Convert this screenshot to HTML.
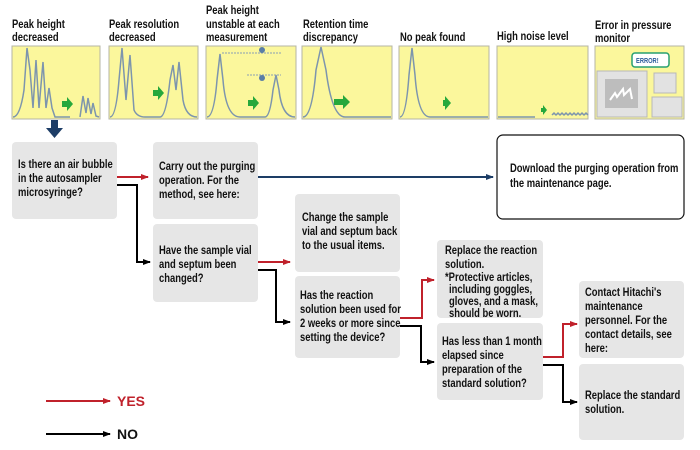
<!DOCTYPE html>
<html><head><meta charset="utf-8"><style>
html,body{margin:0;padding:0;background:#fff;width:700px;height:450px;overflow:hidden}
svg{display:block}
text{font-family:"Liberation Sans",sans-serif;font-weight:bold;font-size:11.5px;fill:#111;transform:scaleX(.82);transform-box:fill-box;transform-origin:left center}
text.n{transform:none}
</style></head><body>
<svg width="700" height="450" viewBox="0 0 700 450" xmlns="http://www.w3.org/2000/svg">
<defs>
<marker id="ar" markerWidth="8" markerHeight="6" refX="7" refY="3" orient="auto" markerUnits="userSpaceOnUse"><path d="M0,0L8,3L0,6z" fill="#c0212b"/></marker>
<marker id="ab" markerWidth="8" markerHeight="6" refX="7" refY="3" orient="auto" markerUnits="userSpaceOnUse"><path d="M0,0L8,3L0,6z" fill="#000"/></marker>
<marker id="an" markerWidth="8" markerHeight="6" refX="7" refY="3" orient="auto" markerUnits="userSpaceOnUse"><path d="M0,0L8,3L0,6z" fill="#1d3d66"/></marker>
</defs>
<!-- titles -->
<text x="12" y="28">Peak height</text><text x="12" y="41">decreased</text>
<text x="109" y="28">Peak resolution</text><text x="109" y="41">decreased</text>
<text x="206" y="14">Peak height</text><text x="206" y="28">unstable at each</text><text x="206" y="41">measurement</text>
<text x="303" y="28">Retention time</text><text x="303" y="41">discrepancy</text>
<text x="400" y="41">No peak found</text>
<text x="497" y="40">High noise level</text>
<text x="595" y="29">Error in pressure</text><text x="595" y="42">monitor</text>
<!-- panels -->
<g fill="#fbf79c" stroke="#b5b5a5" stroke-width="1">
<rect x="12" y="46" width="88" height="73"/><rect x="109" y="46" width="89" height="73"/>
<rect x="206" y="46" width="90" height="73"/><rect x="302" y="46" width="90" height="73"/>
<rect x="399" y="46" width="90" height="73"/><rect x="497" y="46" width="91" height="73"/>
<rect x="595" y="46" width="89" height="73"/>
</g>
<g fill="none" stroke="#7d95ad" stroke-width="1.5">
<path d="M13,117 Q20,117 24,90 L27,48 L30,70 L33,108 L36,60 L39,108 L43,62 L46,108 L49,88 L52,108 L55,117 L70,117"/>
<path d="M80,117 L83,96 L86,113 L88,98 L91,114 L93,103 L96,116 L99,117"/>
<path d="M110,117 Q116,117 119,80 L122,48 L126,100 L130,55 L134,110 Q137,117 145,117 L160,117 Q166,117 170,80 L173,65 L176,90 L179,62 L183,100 Q186,117 197,117"/>
<path d="M207,117 Q214,117 217,80 L220,54 L223,80 Q226,117 240,117 L265,117 Q270,117 273,90 L276,75 L279,90 Q282,117 295,117"/>
<path d="M303,117 Q312,117 316,70 L321,47 L326,70 Q332,117 345,117 L391,117"/>
<path d="M400,117 Q406,117 409,75 L412,48 L415,75 Q418,117 430,117 L488,117"/>
<path d="M498,117 L535,117"/>
<path d="M552,115 l2,-2 l2,2 l2,-2 l2,2 l2,-2 l2,2 l2,-2 l2,2 l2,-2 l2,2 l2,-2 l2,2 l2,-2 l2,2 l2,-2 l2,2 l2,-2 l2,2"/>
</g>
<g stroke="#8a9fb5" stroke-dasharray="2,1" stroke-width="1"><line x1="222" y1="53" x2="282" y2="53"/><line x1="247" y1="75" x2="281" y2="75"/></g>
<g fill="#5a7ea6"><circle cx="262" cy="50" r="3"/><circle cx="262" cy="78" r="3"/></g>
<g fill="#26a83c">
<path d="M62,101h5v-4l6,7l-6,7v-4h-5z"/><path d="M153,90h5v-4l6,7l-6,7v-4h-5z"/>
<path d="M248,100h5v-4l6,7l-6,7v-4h-5z"/><path d="M334,99h9v-4l7,7l-7,7v-4h-9z"/>
<path d="M443,100h2v-4l6,7l-6,7v-4h-2z"/><path d="M541,108h2v-3l4,5l-4,5v-3h-2z"/>
</g>
<!-- error monitor -->
<rect x="597" y="71" width="50" height="46" fill="#e2e2e2" stroke="#b8b8b8"/>
<rect x="605" y="79" width="33" height="29" fill="#bdbdbd"/>
<path d="M610,100l5,-7l2,4l6,-8l1,6l6,-6l2,10" fill="none" stroke="#fff" stroke-width="2"/>
<rect x="654" y="73" width="22" height="20" fill="#e2e2e2" stroke="#b8b8b8"/>
<rect x="652" y="97" width="30" height="20" fill="#e2e2e2" stroke="#b8b8b8"/>
<rect x="632" y="53" width="37" height="14" rx="3" fill="#fff" stroke="#28a070" stroke-width="1.5"/>
<text x="636" y="63" style="font-size:7px;fill:#2a5a9a">ERROR!</text>
<!-- down arrow -->
<rect x="51" y="120" width="7" height="9" fill="#1d3d66"/><path d="M46,128h17l-8.5,10z" fill="#1d3d66"/>
<!-- boxes -->
<g fill="#e6e6e6">
<rect x="12" y="142" width="105" height="77" rx="4"/><rect x="153" y="142" width="105" height="77" rx="4"/>
<rect x="153" y="224" width="105" height="78" rx="4"/><rect x="295" y="194" width="105" height="78" rx="4"/>
<rect x="295" y="276" width="105" height="82" rx="4"/><rect x="437" y="240" width="106" height="78" rx="4"/>
<rect x="437" y="323" width="106" height="77" rx="4"/><rect x="579" y="281" width="105" height="77" rx="4"/>
<rect x="579" y="364" width="105" height="76" rx="4"/>
</g>
<rect x="497" y="135" width="187" height="84" rx="6" fill="#fff" stroke="#111" stroke-width="1.2"/>
<text x="18" y="168">Is there an air bubble</text><text x="18" y="182">in the autosampler</text><text x="18" y="196">microsyringe?</text>
<text x="159" y="170">Carry out the purging</text><text x="159" y="184">operation. For the</text><text x="159" y="198">method, see here:</text>
<text x="159" y="254">Have the sample vial</text><text x="159" y="268">and septum been</text><text x="159" y="282">changed?</text>
<text x="302" y="221">Change the sample</text><text x="302" y="235">vial and septum back</text><text x="302" y="249">to the usual items.</text>
<text x="300" y="299">Has the reaction</text><text x="300" y="313">solution been used for</text><text x="300" y="327">2 weeks or more since</text><text x="300" y="341">setting the device?</text>
<text x="445" y="254">Replace the reaction</text><text x="445" y="268">solution.</text>
<g style="font-weight:normal;font-size:11px"><text x="445" y="281">*Protective articles,</text><text x="449" y="293">including goggles,</text><text x="449" y="305">gloves, and a mask,</text><text x="449" y="317">should be worn.</text></g>
<text x="442" y="345">Has less than 1 month</text><text x="442" y="359">elapsed since</text><text x="442" y="373">preparation of the</text><text x="442" y="387">standard solution?</text>
<text x="585" y="296">Contact Hitachi's</text><text x="585" y="310">maintenance</text><text x="585" y="324">personnel. For the</text><text x="585" y="338">contact details, see</text><text x="585" y="352">here:</text>
<text x="585" y="399">Replace the standard</text><text x="585" y="413">solution.</text>
<text x="510" y="172">Download the purging operation from</text><text x="510" y="187">the maintenance page.</text>
<!-- connectors -->
<g fill="none" stroke-width="2">
<path d="M117,177H148" stroke="#c0212b" marker-end="url(#ar)"/>
<path d="M117,185H137V262H150" stroke="#000" marker-end="url(#ab)"/>
<path d="M258,177H493" stroke="#1d3d66" marker-end="url(#an)"/>
<path d="M258,262H290" stroke="#c0212b" marker-end="url(#ar)"/>
<path d="M258,270H276V322H290" stroke="#000" marker-end="url(#ab)"/>
<path d="M400,318H422V280H434" stroke="#c0212b" marker-end="url(#ar)"/>
<path d="M400,326H421V362H434" stroke="#000" marker-end="url(#ab)"/>
<path d="M543,357H563V324H577" stroke="#c0212b" marker-end="url(#ar)"/>
<path d="M543,365H563V402H577" stroke="#000" marker-end="url(#ab)"/>
<path d="M46,401H110" stroke="#c0212b" marker-end="url(#ar)"/>
<path d="M46,434H110" stroke="#000" marker-end="url(#ab)"/>
</g>
<text class="n" x="117" y="406" style="font-size:14px;fill:#c0212b">YES</text>
<text class="n" x="117" y="439" style="font-size:14px">NO</text>
</svg>
</body></html>
